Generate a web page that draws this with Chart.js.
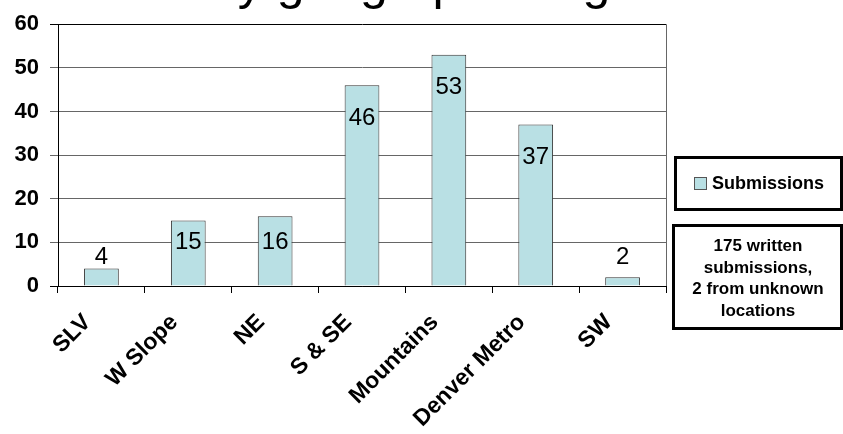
<!DOCTYPE html>
<html>
<head>
<meta charset="utf-8">
<script src="https://cdn.jsdelivr.net/npm/chart.js@4.4.0/dist/chart.umd.min.js"></script>
<style>
  body { margin: 0; background: #fff; }
  canvas { display: block; }
</style>
</head>
<body>
<canvas id="regionChart" width="843" height="434"></canvas>
<script>
// values
var categories = ['SLV', 'W Slope', 'NE', 'S & SE', 'Mountains', 'Denver Metro', 'SW'];
var submissions = [4, 15, 16, 46, 53, 37, 2];
var yTickValues = [0, 10, 20, 30, 40, 50, 60];
var seriesName = 'Submissions';
var chartTitle = 'Submissions by geographic region';
var noteLines = ['175 written', 'submissions,', '2 from unknown', 'locations'];

var FONT = "'Liberation Sans', Arial, sans-serif";
var barFill = '#b9e0e4';
var barEdge = '#333';

// title sits mostly above the top edge, only the descenders show
var titlePlugin = {
    id: 'clippedTitle',
    afterDraw: function(chart) {
        var ctx = chart.ctx;
        ctx.save();
        ctx.font = '50px ' + FONT;
        ctx.fillStyle = '#000';
        ctx.textBaseline = 'alphabetic';
        ctx.textAlign = 'left';
        var lead = ctx.measureText('Submissions ').width;
        ctx.fillText(chartTitle, 210 - lead, -1);
        ctx.restore();
    }
};

var plotBorder = {
    id: 'plotBorder',
    afterDraw: function(chart) {
        var a = chart.chartArea, ctx = chart.ctx;
        ctx.save();
        ctx.strokeStyle = '#666';
        ctx.lineWidth = 1;
        ctx.beginPath();
        ctx.moveTo(Math.round(a.right) + 0.5, a.top);
        ctx.lineTo(Math.round(a.right) + 0.5, a.bottom);
        ctx.stroke();
        ctx.restore();
    }
};

var valueLabels = {
    id: 'valueLabels',
    afterDatasetsDraw: function(chart) {
        var ctx = chart.ctx;
        var y = chart.scales.y;
        var meta = chart.getDatasetMeta(0);
        ctx.save();
        ctx.font = '24px ' + FONT;
        ctx.fillStyle = '#000';
        ctx.textAlign = 'center';
        ctx.textBaseline = 'alphabetic';
        meta.data.forEach(function(bar, i) {
            var v = submissions[i];
            var cy;
            if (v >= 30) cy = bar.y + 31;
            else if (v >= 10) cy = y.getPixelForValue(10) - 2;
            else cy = y.getPixelForValue(10) + 13;
            ctx.fillText(String(v), bar.x, cy + 8.6);
        });
        ctx.restore();
    }
};

var sideBoxes = {
    id: 'sideBoxes',
    afterDraw: function(chart) {
        var ctx = chart.ctx;
        ctx.save();
        ctx.lineWidth = 3;
        ctx.strokeStyle = '#000';
        // legend box
        ctx.strokeRect(675.5, 157.5, 166, 52);
        ctx.fillStyle = barFill;
        ctx.fillRect(694, 177, 12, 12);
        ctx.lineWidth = 1;
        ctx.strokeStyle = '#555';
        ctx.strokeRect(694.5, 177.5, 12, 12);
        ctx.fillStyle = '#000';
        ctx.font = 'bold 18px ' + FONT;
        ctx.textBaseline = 'middle';
        ctx.textAlign = 'left';
        ctx.fillText(chart.data.datasets[0].label, 712, 184);
        // note box
        ctx.lineWidth = 3;
        ctx.strokeStyle = '#000';
        ctx.strokeRect(673.5, 225.5, 168, 103);
        ctx.font = 'bold 17px ' + FONT;
        ctx.textAlign = 'center';
        ctx.textBaseline = 'alphabetic';
        noteLines.forEach(function(line, i) {
            ctx.fillText(line, 758, 251 + i * 21.7);
        });
        ctx.restore();
    }
};

var ctxC = document.getElementById('regionChart').getContext('2d');
var regionChart = new Chart(ctxC, {
    type: 'bar',
    data: {
        labels: categories,
        datasets: [{
            label: seriesName,
            data: submissions,
            backgroundColor: barFill,
            borderColor: barEdge,
            borderWidth: 1,
            categoryPercentage: 1,
            barPercentage: 0.4
        }]
    },
    options: {
        responsive: false,
        animation: false,
        layout: { padding: { top: 16, right: 177, left: 0, bottom: 0 } },
        plugins: {
            legend: { display: false },
            title: { display: false },
            tooltip: { enabled: false }
        },
        scales: {
            x: {
                grid: { drawOnChartArea: false, offset: true, tickLength: 7, color: '#000' },
                border: { color: '#000' },
                ticks: {
                    color: '#000',
                    font: { family: FONT, size: 23, weight: 'bold' },
                    minRotation: 45,
                    maxRotation: 45,
                    autoSkip: false,
                    padding: 16,
                    labelOffset: -14
                },
                afterFit: function(scale) { scale.height = 148; }
            },
            y: {
                min: 0,
                max: 60,
                afterBuildTicks: function(scale) {
                    scale.ticks = yTickValues.map(function(v) { return { value: v }; });
                },
                grid: {
                    tickLength: 8,
                    color: function(c) {
                        if (c.tick && (c.tick.value === 0 || c.tick.value === 60)) return '#000';
                        return '#666';
                    }
                },
                border: { color: '#000' },
                ticks: {
                    color: '#000',
                    font: { family: FONT, size: 22, weight: 'bold' },
                    padding: 11
                },
                afterFit: function(scale) { scale.width = 58; }
            }
        }
    },
    plugins: [valueLabels, plotBorder, sideBoxes, titlePlugin]
});
</script>
</body>
</html>
